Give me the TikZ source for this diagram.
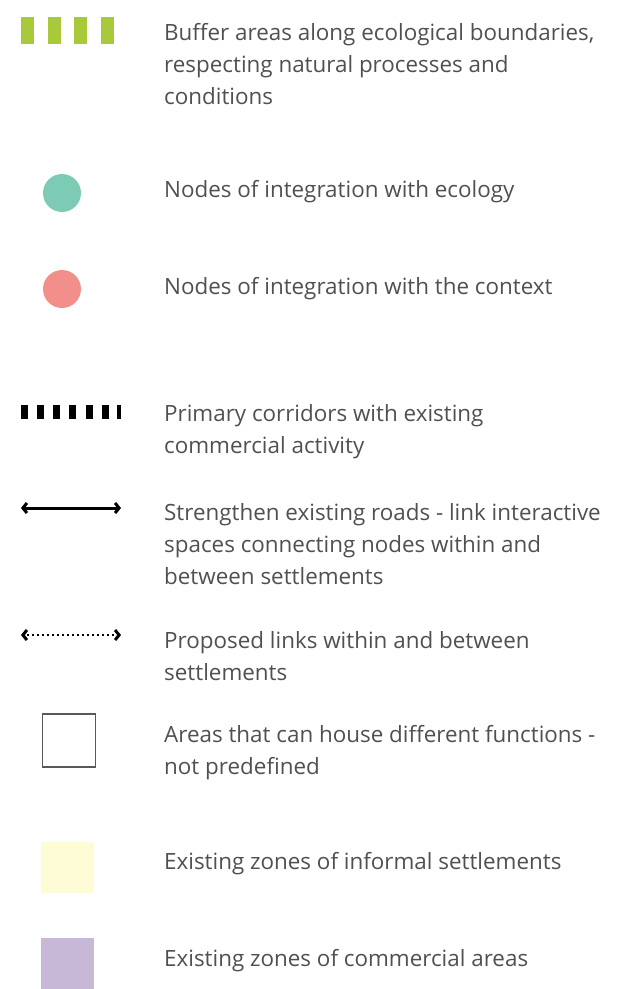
\documentclass[tikz,border=0pt]{standalone}
\usepackage{fontspec}
\setmainfont{Open Sans}
\usetikzlibrary{arrows.meta}
\definecolor{txt}{HTML}{505050}
\definecolor{lime}{HTML}{A8C93A}
\definecolor{teal}{HTML}{7DCBB5}
\definecolor{salmon}{HTML}{F28F8A}
\definecolor{paleyellow}{HTML}{FEFCD6}
\definecolor{lilac}{HTML}{C7B8D8}
\begin{document}
\begin{tikzpicture}[x=1pt,y=-1pt,
  lbl/.style={anchor=west,align=left,inner sep=0pt,text=txt,font=\fontsize{22.4}{32}\selectfont},
  greenbar/.style={fill=lime,draw=none},
  blackbar/.style={fill=black,draw=none},
  barb/.tip={Straight Barb[length=4pt,width=10pt]},
  tip/.style={line width=3pt,{barb}-{barb}},
  swatch/.style={draw=none}]
\useasboundingbox (0,0) rectangle (620,989);
% buffer bars
\foreach \x [count=\i] in {21,48,74,101}{
  \fill[greenbar] (\x,17) rectangle ++(13,27);
}
\node[lbl] (t1) at (164,64) {Buffer areas along ecological boundaries,\\respecting natural processes and\\conditions};
% circles
\node[circle,fill=teal,minimum size=38pt,inner sep=0pt] (c1) at (62,193) {};
\node[lbl] (t2) at (164,192) {Nodes of integration with ecology};
\node[circle,fill=salmon,minimum size=38pt,inner sep=0pt] (c2) at (62,289) {};
\node[lbl] (t3) at (164,289) {Nodes of integration with the context};
% black dashes
\foreach \x in {21,37,53,69,86,102}{
  \fill[blackbar] (\x,405) rectangle ++(7,14);
}
\fill[blackbar] (117,405) rectangle ++(3.5,14);
\node[lbl] (t4) at (164,432) {Primary corridors with existing\\commercial activity};
% solid arrow
\coordinate (a1) at (21,508);
\coordinate (a2) at (121,508);
\draw[tip] (a1) -- (a2);
\node[lbl] (t5) at (164,544) {Strengthen existing roads - link interactive\\spaces connecting nodes within and\\between settlements};
% dotted arrow
\coordinate (b1) at (21,635);
\coordinate (b2) at (121,635);
\draw[line width=2.5pt,dash pattern=on 2.2pt off 2.8pt] (27,635) -- (117,635);
\draw[line width=3pt,{barb}-] (b1) -- (25,635);
\draw[line width=3pt,-{barb}] (117,635) -- (b2);
\node[lbl] (t6) at (164,656) {Proposed links within and between\\settlements};
% squares
\node[draw=black!65,line width=1.2pt,minimum width=53pt,minimum height=53pt,inner sep=0pt] (s1) at (69,740.5) {};
\node[lbl] (t7) at (164,753) {Areas that can house different functions -\\not predefined};
\node[fill=paleyellow,minimum width=53pt,minimum height=51pt,inner sep=0pt] (s2) at (67.5,867.5) {};
\node[lbl] (t8) at (164,864) {Existing zones of informal settlements};
\fill[lilac] (41,938) rectangle (94,989);
\node[lbl] (t9) at (164,961) {Existing zones of commercial areas};
\end{tikzpicture}
\end{document}
